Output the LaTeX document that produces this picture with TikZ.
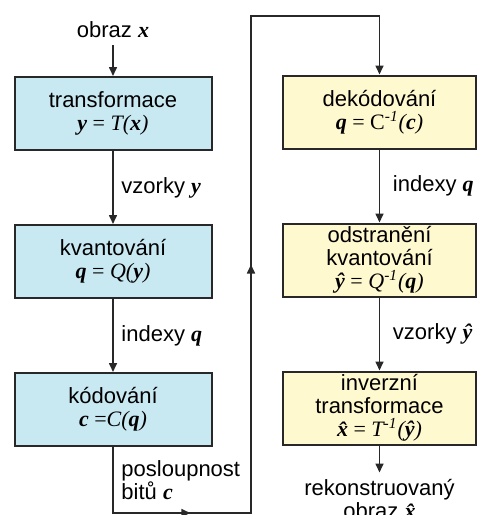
\documentclass[tikz,border=0pt]{standalone}
\usepackage{fontspec}
\setmainfont{Liberation Sans}
\newfontfamily\serifvar{Liberation Serif}
\usepackage{tikz}
\usetikzlibrary{arrows.meta,positioning,calc}
\usepackage{xcolor}
\definecolor{boxblue}{RGB}{200,232,242}
\definecolor{boxyellow}{RGB}{255,249,208}
\definecolor{linegray}{RGB}{40,40,40}
\newcommand{\bv}[1]{{\serifvar\bfseries\itshape #1}}
\newcommand{\fv}[1]{{\serifvar\itshape #1}}
\newcommand{\rov}[1]{{\serifvar #1}}
\newcommand{\inv}{\textsuperscript{\fv{-1}}}

\begin{document}
\begin{tikzpicture}[x=0.5pt,y=-0.5pt,node distance=36.5pt,>={Triangle[length=4.5pt,width=4pt]},
  font=\fontsize{11}{11.5}\selectfont]
\tikzset{
  blok/.style={draw=linegray,line width=1pt,minimum height=36.5pt,align=center,inner sep=1pt},
  modry/.style={blok,fill=boxblue,minimum width=98.5pt},
  zluty/.style={blok,fill=boxyellow,minimum width=96.5pt},
  spoj/.style={draw=linegray,line width=0.8pt}
}
\useasboundingbox (0,0) rectangle (477,515);
% koder
\node[modry] (tr) at (113,113.5) {transformace\\\rov{\bv{y} = \fv{T(}\bv{x}\fv{)}}};
\node[modry,below=of tr] (kv) {kvantování\\\rov{\bv{q} = \fv{Q(}\bv{y}\fv{)}}};
\node[modry,below=of kv] (kod) {kódování\\\rov{\bv{c} =\fv{C(}\bv{q}\fv{)}}};
\node[above=15.5pt of tr] (vstup) {obraz \bv{x}};
% dekoder
\node[zluty] (dek) at (379.5,112) {dekódování\\\rov{\bv{q} = C\inv\fv{(}\bv{c}\fv{)}}};
\node[zluty,below=of dek] (odst) {odstranění\\kvantování\\\rov{\bv{\^y} = \fv{Q}\inv\fv{(}\bv{q}\fv{)}}};
\node[zluty,below=of odst] (inv) {inverzní\\transformace\\\rov{\bv{\^x} = \fv{T}\inv\fv{(}\bv{\^y}\fv{)}}};
\node[below=13.5pt of inv,align=center] (vystup) {rekonstruovaný\\obraz \bv{\^x}};
% spoje
\draw[spoj,->] (vstup) -- (tr);
\draw[spoj,->] (tr) -- node[right=0.5pt] {vzorky \bv{y}} (kv);
\draw[spoj,->] (kv) -- node[right=0.5pt] {indexy \bv{q}} (kod);
\draw[spoj,->] (dek) -- node[right=3pt] {indexy \bv{q}} (odst);
\draw[spoj,->] (odst) -- node[right=3pt] {vzorky \bv{\^y}} (inv);
\draw[spoj,->] (inv) -- (vystup);
% kanal
\coordinate (dno) at (0,513);
\coordinate (zlom1) at (251,513);
\coordinate (zlom2) at (251,16);
\coordinate (nahore) at (dek.north |- zlom2);
\draw[spoj] (kod) -- node[right=0.5pt,align=left] {posloupnost\\bitů \bv{c}} (kod.south |- dno)
  -- (zlom1) -- (zlom2) -- (nahore);
\draw[spoj,->] (kod.south |- dno) -- ($(kod.south |- dno)!0.56!(zlom1)$);
\draw[spoj,->] (zlom1) -- ($(zlom1)!0.5!(zlom2)$);
\draw[spoj,->] (nahore) -- (dek);
\end{tikzpicture}
\end{document}
